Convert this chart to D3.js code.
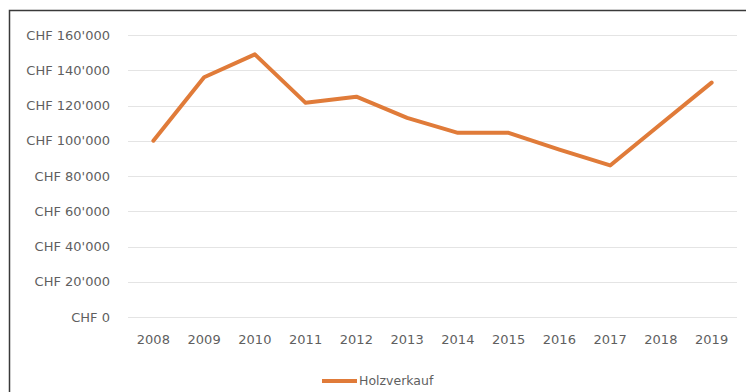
<!doctype html>
<html>
<head>
<meta charset="utf-8">
<script src="https://d3js.org/d3.v7.min.js"></script>
<style>
  body { margin: 0; background: #fff; }
  svg text { font-family: "DejaVu Sans", sans-serif; fill: #5f5f5f; }
</style>
</head>
<body>
<script>
// data
var years = ["2008","2009","2010","2011","2012","2013","2014","2015","2016","2017","2018","2019"];
var holzverkauf = [100000, 136000, 149000, 121500, 125000, 113000, 104500, 104500, 95000, 86000, 109500, 133000];
var yTicks = [0, 20000, 40000, 60000, 80000, 100000, 120000, 140000, 160000];
var seriesName = "Holzverkauf";

var W = 746, H = 392;
var plot = {left: 128, right: 737, top: 35, bottom: 317};

var svg = d3.select("body").append("svg")
  .attr("width", W)
  .attr("height", H);

// frame (top + left edge visible)
svg.append("path")
  .attr("d", "M9.5," + H + "V10.5H" + W)
  .attr("fill", "none")
  .attr("stroke", "#3a3a3a")
  .attr("stroke-width", 1.5);

var x = d3.scaleBand().domain(years).range([plot.left, plot.right]);
var y = d3.scaleLinear().domain([0, 160000]).range([plot.bottom, plot.top]);

function fmt(v) {
  if (v === 0) return "CHF 0";
  var k = Math.floor(v / 1000);
  return "CHF " + k + "'000";
}

// gridlines
svg.append("g").selectAll("line")
  .data(yTicks)
  .join("line")
  .attr("x1", plot.left).attr("x2", plot.right)
  .attr("y1", function(d) { return Math.round(y(d)) + 0.5; })
  .attr("y2", function(d) { return Math.round(y(d)) + 0.5; })
  .attr("stroke", "#e4e4e4")
  .attr("stroke-width", 1);

// y axis labels
var yAxis = d3.axisLeft(y).tickValues(yTicks).tickFormat(fmt).tickSize(0).tickPadding(0);
var gy = svg.append("g")
  .attr("transform", "translate(110,0)")
  .call(yAxis);
gy.select(".domain").remove();
gy.selectAll("text").style("font-size", "13px").attr("fill", "#5f5f5f");

// x axis labels
var xAxis = d3.axisBottom(x).tickSize(0).tickPadding(0);
var gx = svg.append("g")
  .attr("transform", "translate(0,335)")
  .call(xAxis);
gx.select(".domain").remove();
gx.selectAll("text").style("font-size", "13px").attr("fill", "#5f5f5f");

// the line
var line = d3.line()
  .x(function(d, i) { return x(years[i]) + x.bandwidth() / 2; })
  .y(function(d) { return y(d); });

svg.append("path")
  .datum(holzverkauf)
  .attr("d", line)
  .attr("fill", "none")
  .attr("stroke", "#e07b39")
  .attr("stroke-width", 4)
  .attr("stroke-linejoin", "round")
  .attr("stroke-linecap", "round");

// legend
var lg = svg.append("g").attr("transform", "translate(322,381)");
lg.append("line")
  .attr("x1", 0).attr("x2", 35)
  .attr("stroke", "#e07b39")
  .attr("stroke-width", 4);
lg.append("text")
  .attr("x", 37).attr("y", 0)
  .attr("dy", "0.35em")
  .style("font-size", "12.5px")
  .text(seriesName);
</script>
</body>
</html>
